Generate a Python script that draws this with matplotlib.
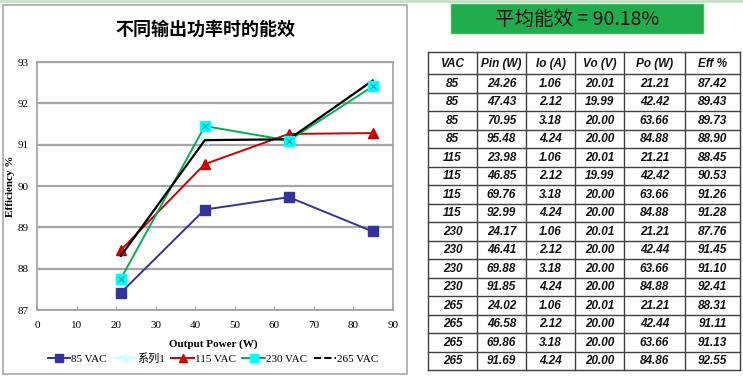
import matplotlib.pyplot as plt
from matplotlib.patches import Rectangle
from matplotlib.lines import Line2D

# table data (VAC, Pin, Io, Vo, Po, Eff)
vac = ['85', '85', '85', '85', '115', '115', '115', '115',
       '230', '230', '230', '230', '265', '265', '265', '265']
pin = ['24.26', '47.43', '70.95', '95.48', '23.98', '46.85', '69.76', '92.99',
       '24.17', '46.41', '69.88', '91.85', '24.02', '46.58', '69.86', '91.69']
io = ['1.06', '2.12', '3.18', '4.24'] * 4
vo = ['20.01', '19.99', '20.00', '20.00', '20.01', '19.99', '20.00', '20.00',
      '20.01', '20.00', '20.00', '20.00', '20.01', '20.00', '20.00', '20.00']
po = ['21.21', '42.42', '63.66', '84.88', '21.21', '42.42', '63.66', '84.88',
      '21.21', '42.44', '63.66', '84.88', '21.21', '42.44', '63.66', '84.86']
eff = ['87.42', '89.43', '89.73', '88.90', '88.45', '90.53', '91.26', '91.28',
       '87.76', '91.45', '91.10', '92.41', '88.31', '91.11', '91.13', '92.55']
headers = ['VAC', 'Pin (W)', 'Io (A)', 'Vo (V)', 'Po (W)', 'Eff %']

series_names = ['85 VAC', '115 VAC', '230 VAC', '265 VAC']
avg_text = '平均能效 = 90.18%'
title_text = '不同输出功率时的能效'

W, H = 743, 376
fig = plt.figure(figsize=(W / 100, H / 100), dpi=100)

def px_axes(x0, y0, x1, y1):
    return fig.add_axes([x0 / W, 1 - y1 / H, (x1 - x0) / W, (y1 - y0) / H])

# overlay in pixel coordinates for banner, table, frame
ov = fig.add_axes([0, 0, 1, 1])
ov.set_xlim(0, W)
ov.set_ylim(H, 0)
ov.axis('off')

ov.plot([0, W], [0.5, 0.5], color='#c6e0c6', lw=2)
ov.add_patch(Rectangle((3, 5), 404, 369, fill=False, ec='#a8a8a8', lw=1.2))

# banner
ov.add_patch(Rectangle((450, 3), 254, 31, fc='#1fae4b', ec='#d8f0d8', lw=1))
ov.text(577, 19, avg_text, ha='center', va='center', fontsize=14,
        family=['Noto Sans CJK SC', 'DejaVu Sans'], color='#111111')

# table
cols = [428, 477, 526, 575, 624, 685, 740]
top, head_h, row_h = 52, 22, 18.5
rows_y = [top, top + head_h] + [top + head_h + row_h * (i + 1) for i in range(len(vac))]
for y in rows_y:
    ov.plot([cols[0], cols[-1]], [y, y], color='#404040', lw=1)
for x in cols:
    ov.plot([x, x], [rows_y[0], rows_y[-1]], color='#404040', lw=1)

tfont = dict(family='Liberation Sans', weight='bold', style='italic', fontsize=8.5,
             ha='center', va='center', color='#111111')
for j, hd in enumerate(headers):
    ov.text((cols[j] + cols[j + 1]) / 2, top + head_h / 2 + 1, hd, **tfont)
table_cols = [vac, pin, io, vo, po, eff]
for i in range(len(vac)):
    yc = rows_y[i + 1] + row_h / 2 + 0.5
    for j, col in enumerate(table_cols):
        ov.text((cols[j] + cols[j + 1]) / 2, yc, col[i], **tfont)

# chart
ax = px_axes(37, 62, 393, 310)
xs = [[float(v) for v in po[k * 4:(k + 1) * 4]] for k in range(4)]
ys = [[float(v) for v in eff[k * 4:(k + 1) * 4]] for k in range(4)]

ax.plot(xs[0], ys[0], color='#333399', lw=1.4, marker='s', ms=7, mfc='#333399', mec='#333399', zorder=3)
ax.plot(xs[3], ys[3], color='#ccffff', lw=1.4, marker='*', ms=7, mfc='#ccffff', mec='#ccffff', zorder=2)
ax.plot(xs[1], ys[1], color='#cc0000', lw=1.4, marker='^', ms=7, mfc='#cc0000', mec='#cc0000', zorder=3)
ax.plot(xs[2], ys[2], color='#00b050', lw=1.4, zorder=3)
ax.plot(xs[3], ys[3], color='black', lw=1.6, zorder=4)
ax.plot(xs[2], ys[2], ls='none', marker='s', ms=7, mfc='#00ffff', mec='#00ffff', zorder=5)
ax.plot(xs[2], ys[2], ls='none', marker='x', ms=5, mec='#00a0a0', mew=0.8, zorder=6)

ax.set_xlim(0, 90)
ax.set_ylim(87, 93)
ax.set_xticks(range(0, 91, 10))
ax.set_yticks(range(87, 94))
ax.grid(axis='y', color='#a6a6a6', lw=1.6)
ax.set_axisbelow(True)
for s in ax.spines.values():
    s.set_color('#a0a0a0')
    s.set_linewidth(1.2)
tick_fam = ['Liberation Sans Narrow', 'Liberation Serif']
ax.tick_params(axis='x', direction='in', length=3, color='#a0a0a0', pad=8, labelsize=8)
ax.tick_params(axis='y', length=0, pad=6, labelsize=8)
for lab in ax.get_xticklabels() + ax.get_yticklabels():
    lab.set_family(tick_fam)

fig.text(205 / W, 1 - 29 / H, title_text, ha='center', va='center', fontsize=13,
         weight='bold', family=['Noto Sans CJK SC', 'DejaVu Sans'])
fig.text(213 / W, 1 - 344 / H, 'Output Power (W)', ha='center', va='center',
         fontsize=8, weight='bold', family='Liberation Serif')
fig.text(11 / W, 1 - 186 / H, 'Efficiency %', ha='center', va='center', rotation=90,
         fontsize=8, weight='bold', family='Liberation Serif')

handles = [
    Line2D([], [], color='#333399', lw=1.4, marker='s', ms=6),
    Line2D([], [], color='#ccffff', lw=1.4, marker='*', ms=7),
    Line2D([], [], color='#cc0000', lw=1.4, marker='^', ms=6),
    Line2D([], [], color='#00b050', lw=1.4, marker='s', ms=6, mfc='#00ffff', mec='#00ffff'),
    Line2D([], [], color='black', lw=1.4, ls='--'),
]
labels = [series_names[0], '系列1', series_names[1], series_names[2], series_names[3]]
leg = fig.legend(handles, labels, loc='center', bbox_to_anchor=(213 / W, 1 - 359 / H),
                 ncol=5, frameon=False, fontsize=8, handlelength=2.0, handletextpad=0.1,
                 columnspacing=0.6, prop={'family': ['Liberation Serif', 'Noto Sans CJK SC'], 'size': 8})

fig.savefig('out.png', dpi=100)
